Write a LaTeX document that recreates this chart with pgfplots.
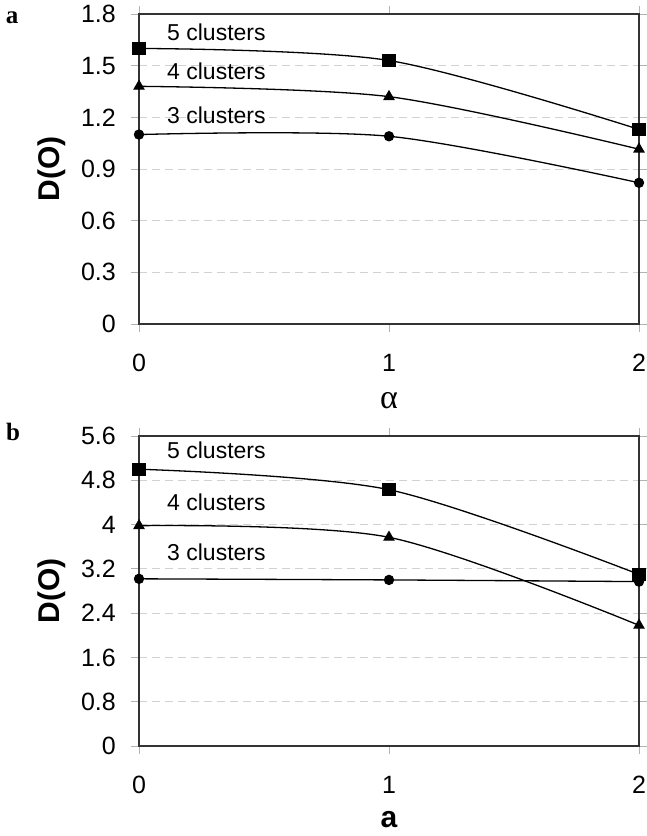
\documentclass[border=0pt]{standalone}
\usepackage{pgfplots}
\pgfplotsset{compat=1.18}
\usepackage{fontspec}
\setmainfont{Liberation Sans}
\newfontfamily\seriffont{Liberation Serif}

\begin{document}
\begin{tikzpicture}
\path[use as bounding box] (0pt,0pt) rectangle (647pt,836pt);
\pgfplotsset{
 myaxis/.style={
  scale only axis, width=500pt, height=310pt,
  xmin=0, xmax=2, xtick={0,1,2},
  axis line style={line width=1.3pt, black!80},
  tick style={gray!60, line width=0.8pt},
  tick align=outside, major tick length=8pt,
  ymajorgrids, major grid style={dash pattern=on 8pt off 5pt, gray!35, line width=0.8pt},
  ticklabel style={font=\fontsize{25}{25}\selectfont},
  yticklabel style={anchor=east, inner sep=0pt, xshift=-15pt},
  xticklabel style={anchor=north, inner sep=0pt, yshift=-22pt},
  /pgf/number format/assume math mode=true,
  ylabel style={at={(axis description cs:-0.174,0.5)}, anchor=center, font=\fontsize{30}{30}\selectfont\bfseries},
  xlabel style={at={(axis description cs:0.5,0)}, anchor=center, yshift=-77pt},
  clip=false,
  every axis plot/.append style={black, line width=1.3pt, smooth, tension=0.5},
 }}
\begin{axis}[myaxis, at={(139pt,512pt)}, anchor=south west,
  ymin=0, ymax=1.8, ytick={0,0.3,0.6,0.9,1.2,1.5,1.8},
  yticklabels={0,0.3,0.6,0.9,1.2,1.5,1.8},
  ylabel={D(O)}, xlabel={\seriffont\fontsize{34}{34}\selectfont α}]
\addplot[mark=square*, mark size=6pt, mark options={solid}] coordinates {(0,1.60) (1,1.53) (2,1.13)};
\addplot[mark=triangle*, mark size=5.5pt, mark options={solid}] coordinates {(0,1.38) (1,1.32) (2,1.015)};
\addplot[mark=*, mark size=4.5pt, mark options={solid}] coordinates {(0,1.10) (1,1.09) (2,0.82)};
\node[anchor=west, inner sep=0pt, font=\fontsize{23}{23}\selectfont] at (axis cs:0.112,1.695) {5 clusters};
\node[anchor=west, inner sep=0pt, font=\fontsize{23}{23}\selectfont] at (axis cs:0.112,1.468) {4 clusters};
\node[anchor=west, inner sep=0pt, font=\fontsize{23}{23}\selectfont] at (axis cs:0.112,1.211) {3 clusters};
\end{axis}
\begin{axis}[myaxis, at={(139pt,90pt)}, anchor=south west,
  ymin=0, ymax=5.6, ytick={0,0.8,1.6,2.4,3.2,4,4.8,5.6},
  yticklabels={0,0.8,1.6,2.4,3.2,4,4.8,5.6},
  ylabel={D(O)}, xlabel={\fontsize{30}{30}\selectfont\bfseries a},
  xlabel style={yshift=3pt}]
\addplot[mark=square*, mark size=6pt, mark options={solid}] coordinates {(0,5.00) (1,4.63) (2,3.10)};
\addplot[mark=triangle*, mark size=5.5pt, mark options={solid}] coordinates {(0,3.98) (1,3.77) (2,2.18)};
\addplot[mark=*, mark size=4.5pt, mark options={solid}] coordinates {(0,3.02) (1,3.00) (2,2.97)};
\node[anchor=west, inner sep=0pt, font=\fontsize{23}{23}\selectfont] at (axis cs:0.112,5.34) {5 clusters};
\node[anchor=west, inner sep=0pt, font=\fontsize{23}{23}\selectfont] at (axis cs:0.112,4.40) {4 clusters};
\node[anchor=west, inner sep=0pt, font=\fontsize{23}{23}\selectfont] at (axis cs:0.112,3.50) {3 clusters};
\end{axis}
\node[anchor=center, inner sep=0pt, font=\seriffont\bfseries\fontsize{25}{25}\selectfont] at (12pt,818pt) {a};
\node[anchor=center, inner sep=0pt, font=\seriffont\bfseries\fontsize{25}{25}\selectfont] at (13pt,404pt) {b};
\end{tikzpicture}
\end{document}
